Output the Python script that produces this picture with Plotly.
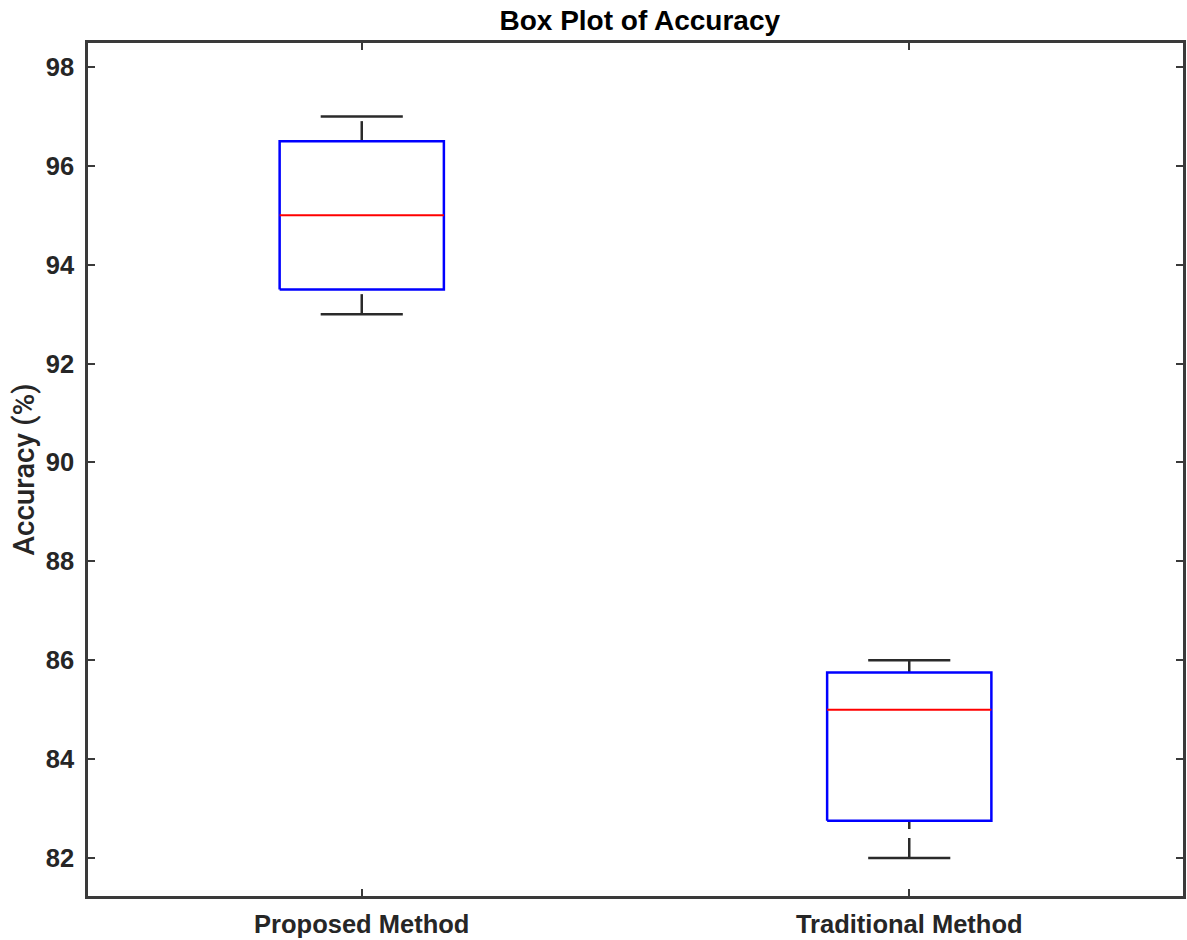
import plotly.graph_objects as go

# Summary statistics of accuracy (%) for each method
methods = ["Proposed Method", "Traditional Method"]
lower_whisker = [93.0, 82.0]
q1 = [93.5, 82.75]
median = [95.0, 85.0]
q3 = [96.5, 85.75]
upper_whisker = [97.0, 86.0]
y_ticks = [82, 84, 86, 88, 90, 92, 94, 96, 98]

positions = [1, 2]
BOX_W = 0.3
CAP_W = 0.15
AXIS_COLOR = "#3a3a3a"
TEXT_COLOR = "#262626"
FONT = "Liberation Sans, Arial, sans-serif"


def seg(xs, ys, color, dash=None, width=2):
    return go.Scatter(
        x=xs, y=ys, mode="lines",
        line=dict(color=color, width=width, dash=dash),
        hoverinfo="skip", showlegend=False,
    )


fig = go.Figure()

for xp, lo, a, m, b, hi in zip(positions, lower_whisker, q1, median, q3, upper_whisker):
    left, right = xp - BOX_W / 2, xp + BOX_W / 2
    # dashed whiskers, drawn bottom to top
    fig.add_trace(seg([xp, xp], [lo, a], "#2a2a2a", "20px,9px", width=2.5))
    fig.add_trace(seg([xp, xp], [b, hi], "#2a2a2a", "20px,9px", width=2.5))
    # whisker caps
    for yv in (lo, hi):
        fig.add_trace(seg([xp - CAP_W / 2, xp + CAP_W / 2], [yv, yv], "#2a2a2a", width=2.5))
    # interquartile box
    fig.add_trace(seg([left, right, right, left, left], [a, a, b, b, a], "#0000ff", width=2.5))
    # median line
    fig.add_trace(seg([left, right], [m, m], "#ff0000"))

fig.update_layout(
    width=1187, height=940,
    margin=dict(l=88, r=1, t=43, b=44),
    paper_bgcolor="white", plot_bgcolor="white",
    font=dict(family=FONT, color=TEXT_COLOR, size=25, weight="bold"),
    title=dict(text="Box Plot of Accuracy", x=0.539, xanchor="center",
               y=0.9787, yanchor="middle",
               font=dict(size=28, weight="bold", color="#000000")),
    xaxis=dict(
        range=[0.5, 2.5], tickvals=positions, ticktext=methods,
        showline=True, linecolor=AXIS_COLOR, linewidth=2.5, mirror="ticks",
        ticks="inside", ticklen=7, tickwidth=2, tickcolor=AXIS_COLOR,
        showgrid=False, zeroline=False, ticklabelstandoff=4,
        tickfont=dict(size=25.5, weight="bold", color=TEXT_COLOR),
    ),
    yaxis=dict(
        range=[81.23, 98.485], tickvals=y_ticks,
        showline=True, linecolor=AXIS_COLOR, linewidth=2.5, mirror="ticks",
        ticks="inside", ticklen=7, tickwidth=2, tickcolor=AXIS_COLOR,
        showgrid=False, zeroline=False, ticklabelstandoff=6,
        tickfont=dict(size=25.5, weight="bold", color=TEXT_COLOR),
        title=dict(text="Accuracy (%)", standoff=3,
                   font=dict(family="Roboto, Liberation Sans, sans-serif",
                             size=29.5, weight=500, color=TEXT_COLOR)),
    ),
)

fig.write_html("out.html")
